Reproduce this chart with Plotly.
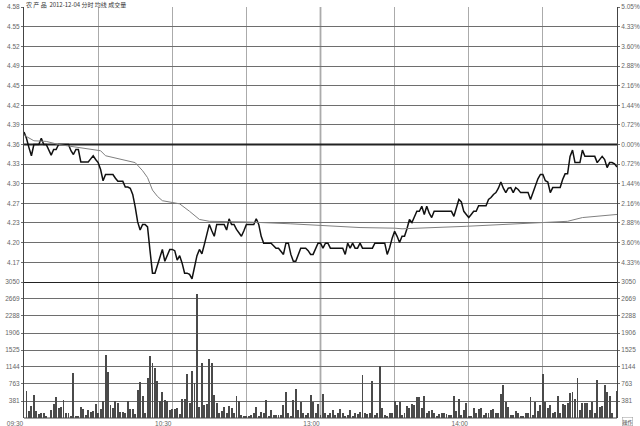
import plotly.graph_objects as go

# ---------------- data ----------------
TITLE = "农 产 品  2012-12-04 分时 均线 成交量"
PREV_CLOSE = 4.36

MINUTES = list(range(0, 241))
PRICE = [
    4.380, 4.370, 4.355, 4.342, 4.360, 4.360, 4.360, 4.370, 4.360, 4.360,
    4.350, 4.343, 4.352, 4.352, 4.360, 4.360, 4.360, 4.360, 4.360, 4.350,
    4.344, 4.352, 4.352, 4.332, 4.332, 4.332, 4.332, 4.337, 4.342, 4.336,
    4.331, 4.320, 4.302, 4.312, 4.312, 4.312, 4.312, 4.306, 4.301, 4.301,
    4.301, 4.292, 4.292, 4.290, 4.280, 4.260, 4.236, 4.223, 4.232, 4.232,
    4.228, 4.190, 4.154, 4.154, 4.168, 4.182, 4.192, 4.173, 4.182, 4.192,
    4.192, 4.190, 4.175, 4.182, 4.170, 4.154, 4.154, 4.152, 4.145, 4.165,
    4.182, 4.192, 4.185, 4.200, 4.215, 4.232, 4.222, 4.213, 4.232, 4.232,
    4.232, 4.232, 4.223, 4.241, 4.232, 4.232, 4.224, 4.218, 4.213, 4.222,
    4.232, 4.232, 4.232, 4.232, 4.241, 4.232, 4.213, 4.202, 4.202, 4.202,
    4.202, 4.198, 4.194, 4.194, 4.188, 4.184, 4.202, 4.202, 4.184, 4.173,
    4.173, 4.184, 4.194, 4.194, 4.194, 4.190, 4.184, 4.184, 4.194, 4.202,
    4.202, 4.194, 4.202, 4.202, 4.194, 4.194, 4.194, 4.194, 4.194, 4.194,
    4.184, 4.202, 4.194, 4.202, 4.194, 4.194, 4.202, 4.194, 4.194, 4.194,
    4.194, 4.194, 4.202, 4.202, 4.202, 4.202, 4.202, 4.184, 4.195, 4.210,
    4.221, 4.213, 4.203, 4.213, 4.213, 4.225, 4.240, 4.235, 4.245, 4.253,
    4.253, 4.261, 4.248, 4.261, 4.250, 4.243, 4.253, 4.253, 4.253, 4.253,
    4.253, 4.253, 4.253, 4.253, 4.245, 4.260, 4.272, 4.268, 4.253, 4.248,
    4.243, 4.248, 4.253, 4.253, 4.262, 4.262, 4.262, 4.262, 4.272, 4.275,
    4.280, 4.283, 4.290, 4.300, 4.290, 4.283, 4.290, 4.291, 4.283, 4.291,
    4.288, 4.283, 4.283, 4.283, 4.283, 4.272, 4.283, 4.295, 4.305, 4.312,
    4.312, 4.302, 4.300, 4.283, 4.291, 4.291, 4.291, 4.291, 4.304, 4.313,
    4.313, 4.341, 4.351, 4.331, 4.331, 4.331, 4.351, 4.341, 4.341, 4.341,
    4.341, 4.341, 4.331, 4.336, 4.341, 4.336, 4.323, 4.331, 4.331, 4.329,
    4.324,
]

AVG_MIN = [0, 4, 9, 14, 19, 25, 31, 33, 37, 42, 45, 48, 50, 52, 54, 56, 63,
           67, 71, 75, 90, 108, 120, 136, 150, 153, 179, 210, 220, 226, 240]
AVG_PRICE = [4.375, 4.366, 4.365, 4.360, 4.357, 4.354, 4.350, 4.342, 4.338,
             4.333, 4.331, 4.318, 4.307, 4.287, 4.277, 4.270, 4.265, 4.253,
             4.240, 4.237, 4.236, 4.233, 4.230, 4.227, 4.226, 4.225, 4.229,
             4.235, 4.237, 4.243, 4.248]

VOL_MIN = list(range(1, 241))
VOLUME = [
    604, 163, 267, 514, 156, 81, 103, 118, 44, 0,
    178, 305, 462, 230, 252, 402, 118, 103, 44, 1000,
    29, 44, 252, 193, 66, 178, 140, 163, 312, 118,
    193, 387, 1410, 1022, 290, 230, 387, 342, 125, 125,
    103, 387, 193, 200, 88, 626, 812, 491, 103, 887,
    1388, 1238, 1111, 835, 387, 574, 402, 387, 178, 193,
    193, 215, 88, 424, 424, 977, 342, 1052, 775, 2792,
    252, 1223, 290, 312, 1321, 1238, 514, 342, 103, 163,
    238, 103, 267, 215, 103, 491, 387, 66, 29, 29,
    29, 66, 103, 252, 44, 140, 103, 402, 29, 178,
    66, 66, 66, 66, 290, 574, 118, 29, 402, 648,
    178, 364, 103, 66, 118, 514, 349, 118, 312, 66,
    529, 118, 66, 103, 178, 66, 118, 193, 103, 29,
    66, 178, 44, 103, 88, 140, 962, 118, 88, 103,
    835, 66, 118, 1164, 215, 66, 44, 118, 118, 387,
    290, 364, 66, 103, 267, 215, 312, 290, 476, 476,
    215, 491, 118, 163, 178, 103, 44, 88, 118, 103,
    88, 66, 66, 491, 163, 424, 66, 178, 342, 44,
    44, 215, 118, 193, 215, 66, 118, 118, 178, 193,
    103, 118, 529, 738, 364, 252, 66, 66, 163, 118,
    44, 29, 118, 118, 462, 66, 364, 163, 290, 977,
    364, 215, 290, 103, 140, 491, 103, 312, 290, 342,
    551, 589, 416, 902, 178, 342, 342, 342, 178, 364,
    103, 850, 238, 267, 738, 574, 500, 103, 0, 611,
]

X_GRID = [0, 30, 60, 90, 120, 150, 180, 210, 240]
X_LABELS = ["09:30", "", "10:30", "", "13:00", "", "14:00", "", ""]

PCT = [5.05, 4.33, 3.60, 2.88, 2.16, 1.44, 0.72, 0.00,
       -0.72, -1.44, -2.16, -2.88, -3.60, -4.33]
PRICE_LABELS = ["4.58", "4.55", "4.52", "4.49", "4.45", "4.42", "4.39", "4.36",
                "4.33", "4.30", "4.27", "4.23", "4.20", "4.17"]
PCT_LABELS = ["5.05%", "4.33%", "3.60%", "2.88%", "2.16%", "1.44%", "0.72%",
              "0.00%", "0.72%", "1.44%", "2.16%", "2.88%", "3.60%", "4.33%"]
PCT_LIMIT = 5.05

VOL_TICKS = [381, 763, 1144, 1525, 1906, 2288, 2669, 3050]
VOL_LABELS = ["381", "763", "1144", "1525", "1906", "2288", "2669", "3050"]
VOL_MAX = 3050

# ---------------- figure ----------------
price_ticks = [PREV_CLOSE * (1 + p / 100) for p in PCT]
p_range = [PREV_CLOSE * (1 - PCT_LIMIT / 100), PREV_CLOSE * (1 + PCT_LIMIT / 100)]
split = (418 - 282) / 411.0

TICKFONT = dict(family="Liberation Sans, Arial, sans-serif", size=6.5, color="#666")
HGRID = "#6e6e6e"
VGRID = "#ababab"

fig = go.Figure()
fig.add_trace(go.Bar(x=VOL_MIN, y=VOLUME, xaxis="x2", yaxis="y2", width=0.38,
                     marker=dict(color="#4a4a4a", line=dict(width=0)),
                     showlegend=False, hoverinfo="skip"))
# anchor trace so the right-hand volume axis is drawn
fig.add_trace(go.Scatter(x=[0], y=[0], xaxis="x2", yaxis="y4", mode="markers",
                         marker=dict(opacity=0, size=1), showlegend=False,
                         hoverinfo="skip"))
fig.add_trace(go.Scatter(x=AVG_MIN, y=AVG_PRICE, xaxis="x", yaxis="y3",
                         mode="lines", line=dict(color="#808080", width=1),
                         showlegend=False, hoverinfo="skip"))
fig.add_trace(go.Scatter(x=MINUTES, y=PRICE, xaxis="x", yaxis="y",
                         mode="lines", line=dict(color="#111111", width=1.5),
                         showlegend=False, hoverinfo="skip"))

common_x = dict(range=[0, 240], tickvals=X_GRID, ticktext=X_LABELS,
                showgrid=True, gridcolor=VGRID, gridwidth=1, zeroline=False,
                showline=False, ticks="", fixedrange=True)

common_y = dict(zeroline=False, showline=True, linecolor="#444",
                ticks="outside", ticklen=2, tickcolor=HGRID, tickfont=TICKFONT,
                fixedrange=True)

fig.update_layout(
    width=640, height=426,
    margin=dict(l=24, r=23, t=7, b=8, autoexpand=False),
    paper_bgcolor="white", plot_bgcolor="white",
    bargap=0,
    xaxis=dict(common_x, anchor="y", showticklabels=False),
    xaxis2=dict(common_x, anchor="y2", matches="x", showticklabels=True,
                tickfont=TICKFONT, ticklabelshift=-9, ticklabelstandoff=0),
    yaxis=dict(common_y, domain=[split, 1], range=p_range, tickvals=price_ticks,
               ticktext=PRICE_LABELS, showgrid=True, gridcolor=HGRID,
               gridwidth=1, anchor="x"),
    yaxis3=dict(common_y, overlaying="y", side="right", range=p_range,
                tickvals=price_ticks, ticktext=PCT_LABELS, showgrid=False,
                anchor="x"),
    yaxis2=dict(common_y, domain=[0, split], range=[0, VOL_MAX],
                tickvals=VOL_TICKS, ticktext=VOL_LABELS, showgrid=True,
                gridcolor=HGRID, gridwidth=1, anchor="x2"),
    yaxis4=dict(common_y, overlaying="y2", side="right", range=[0, VOL_MAX],
                tickvals=VOL_TICKS, ticktext=VOL_LABELS, showgrid=False,
                anchor="x2"),
    shapes=[
        dict(type="line", xref="x", yref="y", x0=0, x1=240, y0=PREV_CLOSE,
             y1=PREV_CLOSE, line=dict(color="#222", width=2), layer="between"),
        dict(type="line", xref="x2", yref="y2", x0=0, x1=240, y0=VOL_MAX,
             y1=VOL_MAX, line=dict(color="#222", width=2), layer="between"),
        dict(type="line", xref="x", yref="paper", x0=120, x1=120, y0=0, y1=1,
             line=dict(color="#777", width=1.5), layer="between"),
        dict(type="line", xref="paper", yref="paper", x0=0, x1=1, y0=0, y1=0,
             line=dict(color="#444", width=1), layer="above"),
    ],
    annotations=[
        dict(text=TITLE, xref="paper", yref="paper", x=0, y=1,
             xanchor="left", yanchor="middle", yshift=3, showarrow=False,
             font=dict(family="Noto Sans CJK SC", size=6, color="#333")),
        dict(text="操作", xref="paper", yref="paper", x=1, y=0,
             xanchor="left", yanchor="middle", xshift=5, yshift=-3,
             showarrow=False, bordercolor="#999", borderwidth=0.5, borderpad=0,
             font=dict(family="Noto Sans CJK SC", size=5, color="#333")),
    ],
)

fig.write_html(
    "out.html",
    config={"displayModeBar": False},
    post_script="document.body.style.margin='0';document.body.style.padding='0';",
)
